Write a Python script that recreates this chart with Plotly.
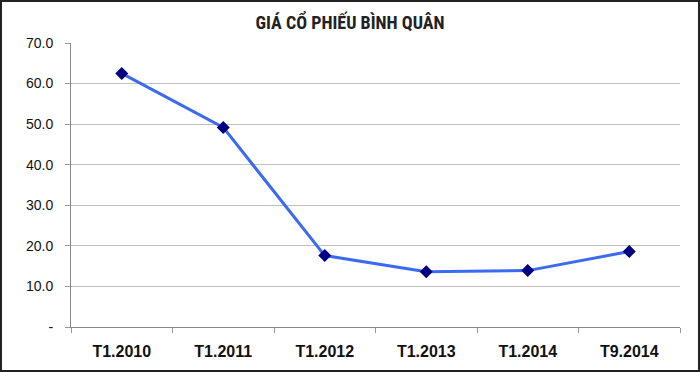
import plotly.graph_objects as go

categories = ["T1.2010", "T1.2011", "T1.2012", "T1.2013", "T1.2014", "T9.2014"]
prices = [62.5, 49.2, 17.6, 13.6, 13.9, 18.6]
ytick_vals = [0, 10, 20, 30, 40, 50, 60, 70]
ytick_text = ["-", "10.0", "20.0", "30.0", "40.0", "50.0", "60.0", "70.0"]
title_text = "GIÁ CỔ PHIẾU BÌNH QUÂN"

W, H = 700, 372
L, R, T, B = 71, 20, 43, 45
pw, ph = W - L - R, H - T - B

fig = go.Figure()
fig.add_trace(go.Scatter(
    x=categories, y=prices, mode="lines+markers",
    line=dict(color="#3b6af0", width=3),
    marker=dict(symbol="diamond", size=10, color="#000080"),
    showlegend=False, hoverinfo="skip",
))

fig.update_layout(
    width=W, height=H,
    margin=dict(l=L, r=R, t=T, b=B),
    paper_bgcolor="white", plot_bgcolor="white",
    title=dict(text=title_text, x=0.5, xanchor="center",
               y=1 - 23 / H, yanchor="middle",
               font=dict(family="Roboto Condensed, Open Sans Condensed, Roboto, sans-serif",
                         size=18, color="#222222", weight="bold")),
    xaxis=dict(
        type="category", range=[-0.5, 5.5],
        tickson="boundaries", ticks="outside", ticklen=5,
        tickcolor="#999999", showline=True, linecolor="#888888", linewidth=1,
        showgrid=False,
        tickfont=dict(family="Liberation Sans, Arial, sans-serif", size=16, color="#111111", weight="bold"),
        ticklabelstandoff=10,
    ),
    yaxis=dict(
        range=[0, 70], tickvals=ytick_vals, ticktext=ytick_text,
        ticks="outside", ticklen=5, tickcolor="#999999",
        showline=True, linecolor="#888888", linewidth=1,
        showgrid=True, gridcolor="#c0c0c0", gridwidth=1, zeroline=False,
        tickfont=dict(family="Liberation Sans, Arial, sans-serif", size=14, color="#111111"),
        ticklabelstandoff=9,
    ),
    shapes=[dict(
        type="rect", xref="paper", yref="paper",
        x0=(1 - L) / pw, x1=(W - 1 - L) / pw,
        y0=-(H - 1 - T - ph) / ph, y1=(T - 1) / ph + 1,
        line=dict(color="#222222", width=2), fillcolor="rgba(0,0,0,0)",
        layer="above",
    )],
)

fig.write_html("out.html", config={"displayModeBar": False},
               post_script="document.body.style.margin='0';document.body.style.overflow='hidden';")
